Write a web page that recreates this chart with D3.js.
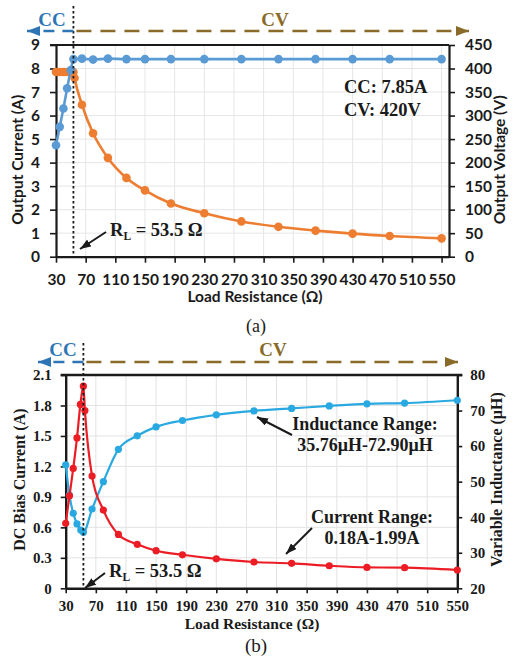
<!DOCTYPE html>
<html>
<head>
<meta charset="utf-8">
<script src="https://cdn.jsdelivr.net/npm/d3@7"></script>
<style>
  html, body { margin: 0; padding: 0; background: #fff; }
  svg { display: block; }
</style>
</head>
<body>
<svg id="fig" width="513" height="660"></svg>
<script>
// ---------- (a) output current / voltage vs load resistance ----------
const loadTicksA = [30, 70, 110, 150, 190, 230, 270, 310, 350, 390, 430, 470, 510, 550];
const currentTicksA = [0, 1, 2, 3, 4, 5, 6, 7, 8, 9];
const voltageTicksA = [0, 50, 100, 150, 200, 250, 300, 350, 400, 450];

const voltageLoad = [30, 35, 40, 45, 50, 53.5, 65, 80, 100, 125, 150, 185, 230, 280, 330, 380, 430, 480, 550];
const outputVoltage = [237, 276, 315, 358, 397, 420, 421, 419, 421, 420, 420, 420, 420, 420, 420, 420, 420, 420, 420];

const currentLoad = [30, 35, 40, 45, 50, 53.5, 55, 65, 80, 100, 125, 150, 185, 230, 280, 330, 380, 430, 480, 550];
const outputCurrent = [7.85, 7.85, 7.85, 7.85, 7.85, 7.85, 7.6, 6.46, 5.25, 4.2, 3.35, 2.82, 2.26, 1.85, 1.5, 1.27, 1.11, 0.98, 0.88, 0.78];

// ---------- (b) DC bias current / variable inductance ----------
const loadTicksB = [30, 70, 110, 150, 190, 230, 270, 310, 350, 390, 430, 470, 510, 550];
const biasTicks = [0, 0.3, 0.6, 0.9, 1.2, 1.5, 1.8, 2.1];
const inductTicks = [20, 30, 40, 50, 60, 70, 80];

const biasLoad = [30, 35, 40, 45, 49.5, 53.5, 55.5, 65, 80, 100, 125, 150, 185, 230, 280, 330, 380, 430, 480, 550];
const biasCurrent = [0.64, 0.91, 1.18, 1.48, 1.81, 1.99, 1.75, 1.105, 0.77, 0.53, 0.433, 0.37, 0.33, 0.29, 0.259, 0.246, 0.222, 0.206, 0.203, 0.18];

const inductLoad = [30, 35, 40, 45, 50, 53.5, 65, 80, 100, 125, 150, 185, 230, 280, 330, 380, 430, 480, 550];
const inductance = [54.7, 46.2, 41.1, 38.1, 36.4, 35.76, 42.3, 50.0, 59.1, 62.9, 65.4, 67.2, 68.8, 69.9, 70.6, 71.3, 71.9, 72.1, 72.9];

const boundaryR = 53.5;

const svg = d3.select("#fig");
const defs = svg.append("defs");
function arrowMarker(id, color, w, h) {
  defs.append("marker").attr("id", id)
    .attr("viewBox", `0 0 ${w} ${h}`).attr("refX", w).attr("refY", h / 2)
    .attr("markerWidth", w).attr("markerHeight", h)
    .attr("markerUnits", "userSpaceOnUse").attr("orient", "auto")
    .append("path").attr("d", `M0,0L${w},${h / 2}L0,${h}Z`).attr("fill", color);
}
arrowMarker("ccA", "#2E75B6", 13, 10);
arrowMarker("cvA", "#8A6A28", 13, 10);
arrowMarker("blk", "#1a1a1a", 11, 8);

const SANS = "Lato, 'Open Sans', sans-serif";
const SERIF = "'Liberation Serif', 'Times New Roman', serif";

function zip(xs, ys) { return xs.map((d, i) => [d, ys[i]]); }

function drawModeBar(g, x, y, leftEnd, rightEnd, ccX, cvX, font, yText) {
  const xb = x(boundaryR);
  g.append("line").attr("x1", xb).attr("x2", leftEnd).attr("y1", y).attr("y2", y)
    .attr("stroke", "#2E75B6").attr("stroke-width", 2.5).attr("stroke-dasharray", "11,8")
    .attr("marker-end", "url(#ccA)");
  g.append("line").attr("x1", xb).attr("x2", rightEnd).attr("y1", y).attr("y2", y)
    .attr("stroke", "#8A6A28").attr("stroke-width", 2.5).attr("stroke-dasharray", "15,9")
    .attr("stroke-dashoffset", -3)
    .attr("marker-end", "url(#cvA)");
  g.append("text").attr("x", ccX).attr("y", yText).attr("text-anchor", "middle")
    .attr("font-family", SERIF).attr("font-weight", "bold").attr("font-size", font)
    .attr("fill", "#2E75B6").text("CC");
  g.append("text").attr("x", cvX).attr("y", yText).attr("text-anchor", "middle")
    .attr("font-family", SERIF).attr("font-weight", "bold").attr("font-size", font)
    .attr("fill", "#8A6A28").text("CV");
}

function rlLabel(g, x, y, size) {
  const t = g.append("text").attr("x", x).attr("y", y)
    .attr("font-family", SERIF).attr("font-weight", "bold").attr("font-size", size).attr("fill", "#1a1a1a");
  t.append("tspan").text("R");
  t.append("tspan").attr("font-size", size * 0.62).attr("dy", 4).text("L");
  t.append("tspan").attr("dy", -4).text(" = 53.5 Ω");
}

function arrow(g, x1, y1, x2, y2) {
  g.append("line").attr("x1", x1).attr("y1", y1).attr("x2", x2).attr("y2", y2)
    .attr("stroke", "#1a1a1a").attr("stroke-width", 2).attr("marker-end", "url(#blk)");
}

// ================= Panel (a) =================
{
  const g = svg.append("g");
  const L = 56, R = 449, T = 45, B = 256.7;
  const x = d3.scaleLinear().domain([30, 560]).range([L, R]);
  const yI = d3.scaleLinear().domain([0, 9]).range([B, T]);
  const yV = d3.scaleLinear().domain([0, 450]).range([B, T]);

  // grid
  g.append("g").selectAll("line").data(loadTicksA.slice(1)).join("line")
    .attr("x1", d => x(d)).attr("x2", d => x(d)).attr("y1", T).attr("y2", B)
    .attr("stroke", "#e6e6e6").attr("stroke-width", 1);
  g.append("g").selectAll("line").data(currentTicksA.slice(1, -1)).join("line")
    .attr("x1", L).attr("x2", R).attr("y1", d => yI(d)).attr("y2", d => yI(d))
    .attr("stroke", "#e6e6e6").attr("stroke-width", 1);

  // axes
  const axStyle = sel => {
    sel.select(".domain").attr("stroke", "#1a1a1a").attr("stroke-width", 2.2);
    sel.selectAll(".tick line").attr("stroke", "#1a1a1a").attr("stroke-width", 1.6);
    sel.selectAll(".tick text").attr("font-family", SANS).attr("font-weight", "bold")
      .attr("font-size", 15.5).attr("fill", "#1a1a1a");
  };
  g.append("g").attr("transform", `translate(0,${B})`)
    .call(d3.axisBottom(x).tickValues(loadTicksA).tickSize(6).tickSizeOuter(0).tickPadding(11))
    .call(axStyle);
  g.append("g").attr("transform", `translate(${L},0)`)
    .call(d3.axisLeft(yI).tickValues(currentTicksA).tickSize(6).tickSizeOuter(0).tickPadding(10))
    .call(axStyle);
  g.append("g").attr("transform", `translate(${R},0)`)
    .call(d3.axisRight(yV).tickValues(voltageTicksA).tickSize(6).tickSizeOuter(0).tickPadding(10))
    .call(axStyle);
  g.append("line").attr("x1", L - 6).attr("x2", R).attr("y1", T).attr("y2", T)
    .attr("stroke", "#1a1a1a").attr("stroke-width", 2.2);

  // titles
  g.append("text").attr("transform", `translate(23,${(T + B) / 2 + 9}) rotate(-90)`)
    .attr("text-anchor", "middle").attr("font-family", SANS).attr("font-weight", "bold")
    .attr("font-size", 15.5).attr("fill", "#1a1a1a").text("Output Current (A)");
  g.append("text").attr("transform", `translate(505,${(T + B) / 2 + 9}) rotate(-90)`)
    .attr("text-anchor", "middle").attr("font-family", SANS).attr("font-weight", "bold")
    .attr("font-size", 15.5).attr("fill", "#1a1a1a").text("Output Voltage (V)");
  g.append("text").attr("x", 255).attr("y", 302).attr("text-anchor", "middle")
    .attr("font-family", SANS).attr("font-weight", "bold").attr("font-size", 15.5)
    .attr("fill", "#1a1a1a").text("Load Resistance (Ω)");

  // series
  const lineI = d3.line().x(d => x(d[0])).y(d => yI(d[1])).curve(d3.curveMonotoneX);
  const lineV = d3.line().x(d => x(d[0])).y(d => yV(d[1])).curve(d3.curveMonotoneX);
  const cur = zip(currentLoad, outputCurrent);
  const vol = zip(voltageLoad, outputVoltage);
  g.append("path").attr("d", lineI(cur)).attr("fill", "none").attr("stroke", "#ED7D31").attr("stroke-width", 2.6);
  g.append("g").selectAll("circle").data(cur).join("circle")
    .attr("cx", d => x(d[0])).attr("cy", d => yI(d[1])).attr("r", 4.3).attr("fill", "#ED7D31");
  g.append("path").attr("d", lineV(vol)).attr("fill", "none").attr("stroke", "#5B9BD5").attr("stroke-width", 2.6);
  g.append("g").selectAll("circle").data(vol).join("circle")
    .attr("cx", d => x(d[0])).attr("cy", d => yV(d[1])).attr("r", 4.3).attr("fill", "#5B9BD5");

  // CC/CV boundary
  g.append("line").attr("x1", x(boundaryR)).attr("x2", x(boundaryR)).attr("y1", 6).attr("y2", B)
    .attr("stroke", "#1a1a1a").attr("stroke-width", 1.8).attr("stroke-dasharray", "2.5,2.5");

  drawModeBar(g, x, 31, 27, 469, 52, 275, 19, 26);

  g.append("text").attr("x", 344).attr("y", 93).attr("font-family", SERIF).attr("font-weight", "bold")
    .attr("font-size", 18.5).attr("fill", "#1a1a1a").text("CC: 7.85A");
  g.append("text").attr("x", 344).attr("y", 116).attr("font-family", SERIF).attr("font-weight", "bold")
    .attr("font-size", 18.5).attr("fill", "#1a1a1a").text("CV: 420V");

  rlLabel(g, 110, 236, 18.5);
  arrow(g, 106, 232, 80, 249);

  g.append("text").attr("x", 256).attr("y", 332).attr("text-anchor", "middle")
    .attr("font-family", SERIF).attr("font-size", 18).attr("fill", "#1a1a1a").text("(a)");
}

// ================= Panel (b) =================
{
  const g = svg.append("g");
  const L = 65.7, R = 457.3, T = 375, B = 588.3;
  const x = d3.scaleLinear().domain([30, 550]).range([L, R]);
  const yA = d3.scaleLinear().domain([0, 2.1]).range([B, T]);
  const yH = d3.scaleLinear().domain([20, 80]).range([B, T]);

  g.append("g").selectAll("line").data(loadTicksB.slice(1, -1)).join("line")
    .attr("x1", d => x(d)).attr("x2", d => x(d)).attr("y1", T).attr("y2", B)
    .attr("stroke", "#e3e3e3").attr("stroke-width", 1);
  g.append("g").selectAll("line").data(biasTicks.slice(1, -1)).join("line")
    .attr("x1", L).attr("x2", R).attr("y1", d => yA(d)).attr("y2", d => yA(d))
    .attr("stroke", "#e3e3e3").attr("stroke-width", 1);

  const axStyle = sel => {
    sel.select(".domain").attr("stroke", "#1a1a1a").attr("stroke-width", 2.4);
    sel.selectAll(".tick line").attr("stroke", "#1a1a1a").attr("stroke-width", 1.6);
    sel.selectAll(".tick text").attr("font-family", SERIF).attr("font-weight", "bold")
      .attr("font-size", 15).attr("fill", "#1a1a1a");
  };
  g.append("g").attr("transform", `translate(0,${B})`)
    .call(d3.axisBottom(x).tickValues(loadTicksB).tickSize(5).tickSizeOuter(0).tickPadding(7))
    .call(axStyle);
  g.append("g").attr("transform", `translate(${L},0)`)
    .call(d3.axisLeft(yA).tickValues(biasTicks).tickFormat(d => d === 0 ? "0" : d3.format(".1f")(d))
      .tickSize(5).tickSizeOuter(0).tickPadding(9))
    .call(axStyle);
  g.append("g").attr("transform", `translate(${R},0)`)
    .call(d3.axisRight(yH).tickValues(inductTicks).tickSize(5).tickSizeOuter(0).tickPadding(8))
    .call(axStyle);
  g.append("line").attr("x1", L - 5).attr("x2", R + 5).attr("y1", T).attr("y2", T)
    .attr("stroke", "#1a1a1a").attr("stroke-width", 2.4);

  g.append("text").attr("transform", `translate(25,${(T + B) / 2 - 2}) rotate(-90)`)
    .attr("text-anchor", "middle").attr("font-family", SERIF).attr("font-weight", "bold")
    .attr("font-size", 16).attr("fill", "#1a1a1a").text("DC Bias Current (A)");
  g.append("text").attr("transform", `translate(502,${(T + B) / 2 - 2}) rotate(-90)`)
    .attr("text-anchor", "middle").attr("font-family", SERIF).attr("font-weight", "bold")
    .attr("font-size", 16).attr("fill", "#1a1a1a").text("Variable Inductance (μH)");
  g.append("text").attr("x", 252).attr("y", 629).attr("text-anchor", "middle")
    .attr("font-family", SERIF).attr("font-weight", "bold").attr("font-size", 15.5)
    .attr("fill", "#1a1a1a").text("Load Resistance (Ω)");

  const lineA = d3.line().x(d => x(d[0])).y(d => yA(d[1])).curve(d3.curveMonotoneX);
  const lineH = d3.line().x(d => x(d[0])).y(d => yH(d[1])).curve(d3.curveMonotoneX);
  const bias = zip(biasLoad, biasCurrent);
  const ind = zip(inductLoad, inductance);
  g.append("path").attr("d", lineH(ind)).attr("fill", "none").attr("stroke", "#29A9E1").attr("stroke-width", 2.2);
  g.append("g").selectAll("circle").data(ind).join("circle")
    .attr("cx", d => x(d[0])).attr("cy", d => yH(d[1])).attr("r", 3.6).attr("fill", "#29A9E1");
  g.append("path").attr("d", lineA(bias)).attr("fill", "none").attr("stroke", "#EC1C24").attr("stroke-width", 2.2);
  g.append("g").selectAll("circle").data(bias).join("circle")
    .attr("cx", d => x(d[0])).attr("cy", d => yA(d[1])).attr("r", 3.6).attr("fill", "#EC1C24");

  g.append("line").attr("x1", x(boundaryR)).attr("x2", x(boundaryR)).attr("y1", 343).attr("y2", B)
    .attr("stroke", "#1a1a1a").attr("stroke-width", 1.8).attr("stroke-dasharray", "2.5,2.5");

  drawModeBar(g, x, 362, 38, 458, 63, 273, 19, 356);

  g.append("text").attr("x", 365).attr("y", 430).attr("text-anchor", "middle").attr("font-family", SERIF)
    .attr("font-weight", "bold").attr("font-size", 18).attr("fill", "#1a1a1a").text("Inductance Range:");
  g.append("text").attr("x", 365).attr("y", 451).attr("text-anchor", "middle").attr("font-family", SERIF)
    .attr("font-weight", "bold").attr("font-size", 18).attr("fill", "#1a1a1a").text("35.76μH-72.90μH");
  arrow(g, 292, 435, 257, 417);

  g.append("text").attr("x", 372).attr("y", 523).attr("text-anchor", "middle").attr("font-family", SERIF)
    .attr("font-weight", "bold").attr("font-size", 18).attr("fill", "#1a1a1a").text("Current Range:");
  g.append("text").attr("x", 372).attr("y", 544).attr("text-anchor", "middle").attr("font-family", SERIF)
    .attr("font-weight", "bold").attr("font-size", 18).attr("fill", "#1a1a1a").text("0.18A-1.99A");
  arrow(g, 312, 528, 286, 554);

  rlLabel(g, 109, 577, 18.5);
  arrow(g, 105, 573, 85, 588);

  g.append("text").attr("x", 256).attr("y", 652).attr("text-anchor", "middle")
    .attr("font-family", SERIF).attr("font-size", 19).attr("fill", "#1a1a1a").text("(b)");
}
</script>
</body>
</html>
